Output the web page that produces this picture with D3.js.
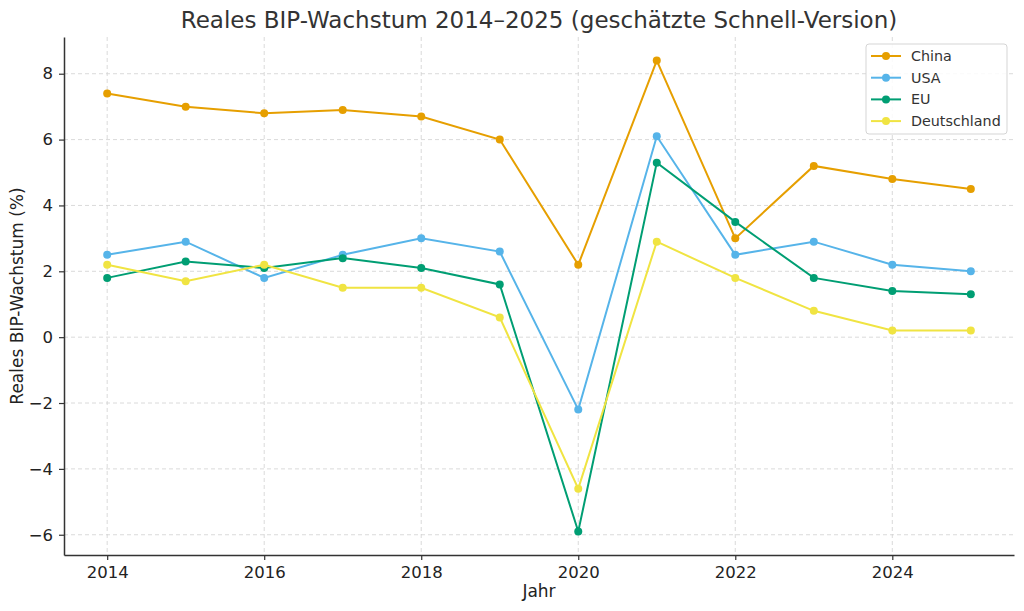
<!DOCTYPE html>
<html>
<head>
<meta charset="utf-8">
<script src="https://cdn.jsdelivr.net/npm/d3@7"></script>
<style>
  body { margin: 0; background: #fff; }
  svg { font-family: "DejaVu Sans", sans-serif; }
  .grid line { stroke: #d0d0d0; stroke-dasharray: 4,3; stroke-width: 0.8; }
  .axis path, .axis line { stroke: #333; }
</style>
</head>
<body>
<div id="chart"></div>
<script>
const years = [2014, 2015, 2016, 2017, 2018, 2019, 2020, 2021, 2022, 2023, 2024, 2025]
const china = [7.4, 7.0, 6.8, 6.9, 6.7, 6.0, 2.2, 8.4, 3.0, 5.2, 4.8, 4.5]
const usa = [2.5, 2.9, 1.8, 2.5, 3.0, 2.6, -2.2, 6.1, 2.5, 2.9, 2.2, 2.0]
const eu = [1.8, 2.3, 2.1, 2.4, 2.1, 1.6, -5.9, 5.3, 3.5, 1.8, 1.4, 1.3]
const deutschland = [2.2, 1.7, 2.2, 1.5, 1.5, 0.6, -4.6, 2.9, 1.8, 0.8, 0.2, 0.2]
const xTicks = [2014, 2016, 2018, 2020, 2022, 2024]
const yTicks = [-6, -4, -2, 0, 2, 4, 6, 8]

const series = [
  { name: 'China', values: china, color: '#E69F00' },
  { name: 'USA', values: usa, color: '#56B4E9' },
  { name: 'EU', values: eu, color: '#009E73' },
  { name: 'Deutschland', values: deutschland, color: '#F0E442' }
]

const width = 1024
const height = 611
const margin = { top: 37, right: 10, bottom: 56, left: 64 }

const svg = d3.select('#chart').append('svg')
  .attr('width', width)
  .attr('height', height)

const x = d3.scaleLinear().domain([2013.45, 2025.55]).range([margin.left, width - margin.right])
const y = d3.scaleLinear().domain([-6.615, 9.115]).range([height - margin.bottom, margin.top])

// gitter
svg.append('g').attr('class', 'grid')
  .selectAll('line.v').data(xTicks).join('line')
  .attr('x1', d => x(d)).attr('x2', d => x(d))
  .attr('y1', margin.top).attr('y2', height - margin.bottom)
svg.append('g').attr('class', 'grid')
  .selectAll('line.h').data(yTicks).join('line')
  .attr('x1', margin.left).attr('x2', width - margin.right)
  .attr('y1', d => y(d)).attr('y2', d => y(d))

const fmt = d => d < 0 ? '\u2212' + Math.abs(d) : String(d)

const xAxis = svg.append('g').attr('class', 'axis')
  .attr('transform', `translate(0,${height - margin.bottom})`)
  .call(d3.axisBottom(x).tickValues(xTicks).tickFormat(d3.format('d')).tickSize(5).tickSizeOuter(0).tickPadding(6))
const yAxis = svg.append('g').attr('class', 'axis')
  .attr('transform', `translate(${margin.left},0)`)
  .call(d3.axisLeft(y).tickValues(yTicks).tickFormat(fmt).tickSize(5).tickSizeOuter(0).tickPadding(6))

;[xAxis, yAxis].forEach(a => {
  a.select('.domain').attr('stroke-width', 1.5)
  a.selectAll('.tick line').attr('stroke-width', 1.2)
  a.selectAll('.tick text')
    .style('font-family', '"DejaVu Sans", sans-serif')
    .style('font-size', '16.5px')
    .style('fill', '#222')
})

const line = d3.line().x((d, i) => x(years[i])).y(d => y(d))

series.forEach(s => {
  svg.append('path')
    .datum(s.values)
    .attr('fill', 'none')
    .attr('stroke', s.color)
    .attr('stroke-width', 2)
    .attr('d', line)
  svg.append('g')
    .selectAll('circle').data(s.values).join('circle')
    .attr('cx', (d, i) => x(years[i]))
    .attr('cy', d => y(d))
    .attr('r', 4)
    .attr('fill', s.color)
})

// titel und achsenbeschriftung
svg.append('text')
  .attr('x', (margin.left + width - margin.right) / 2)
  .attr('y', 28)
  .attr('text-anchor', 'middle')
  .attr('font-size', 23)
  .attr('fill', '#333')
  .text('Reales BIP-Wachstum 2014–2025 (geschätzte Schnell-Version)')

svg.append('text')
  .attr('x', (margin.left + width - margin.right) / 2)
  .attr('y', 597)
  .attr('text-anchor', 'middle')
  .attr('font-size', 17)
  .attr('fill', '#222')
  .text('Jahr')

svg.append('text')
  .attr('transform', `translate(23,${(margin.top + height - margin.bottom) / 2}) rotate(-90)`)
  .attr('text-anchor', 'middle')
  .attr('font-size', 17)
  .attr('fill', '#222')
  .text('Reales BIP-Wachstum (%)')

// legende
const lg = svg.append('g').attr('transform', 'translate(866,44)')
lg.append('rect')
  .attr('width', 141).attr('height', 90).attr('rx', 3)
  .attr('fill', 'rgba(255,255,255,0.85)')
  .attr('stroke', '#d5d5d5')

series.forEach((s, i) => {
  const g = lg.append('g').attr('transform', `translate(0,${12 + i * 21.7})`)
  g.append('line').attr('x1', 5).attr('x2', 35).attr('stroke', s.color).attr('stroke-width', 2)
  g.append('circle').attr('cx', 20).attr('r', 4).attr('fill', s.color)
  g.append('text').attr('x', 45).attr('dy', '0.35em').attr('font-size', 14.3).attr('fill', '#333').text(s.name)
})
</script>
</body>
</html>
